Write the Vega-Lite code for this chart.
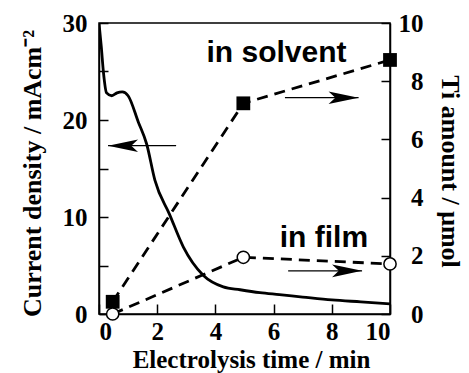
{
  "$schema": "https://vega.github.io/schema/vega-lite/v6.json",
  "width": 291,
  "height": 291,
  "autosize": "none",
  "padding": {"left": 99, "top": 23, "right": 79, "bottom": 59},
  "background": "white",
  "config": {
    "view": {"stroke": "black", "strokeWidth": 1.5},
    "axis": {
      "domainColor": "black", "domainWidth": 1.5, "tickColor": "black", "tickWidth": 1.5,
      "grid": false, "labelFont": "Liberation Serif", "labelFontWeight": "bold", "labelFontSize": 25,
      "labelColor": "black", "titleFont": "Liberation Serif", "titleFontWeight": "bold",
      "titleFontSize": 26, "titleColor": "black", "labelOverlap": false
    }
  },
  "datasets": {
    "current": [
      {"t": 0, "j": 30}, {"t": 0.08, "j": 27.5}, {"t": 0.15, "j": 25}, {"t": 0.26, "j": 22.8},
      {"t": 0.44, "j": 22.5}, {"t": 0.62, "j": 22.8}, {"t": 0.8, "j": 22.9}, {"t": 1.0, "j": 22.5},
      {"t": 1.35, "j": 19.8}, {"t": 1.64, "j": 17.5}, {"t": 1.92, "j": 13.8}, {"t": 2.42, "j": 10.3},
      {"t": 2.9, "j": 6.9}, {"t": 3.58, "j": 4.0}, {"t": 4.27, "j": 2.8}, {"t": 4.85, "j": 2.5},
      {"t": 5.53, "j": 2.2}, {"t": 6.2, "j": 2.0}, {"t": 7.0, "j": 1.75}, {"t": 8.0, "j": 1.45},
      {"t": 9.0, "j": 1.25}, {"t": 10.0, "j": 1.05}
    ],
    "ti": [
      {"t": 0.47, "amount": 0.42, "place": "solvent"},
      {"t": 4.96, "amount": 7.24, "place": "solvent"},
      {"t": 10.0, "amount": 8.73, "place": "solvent"},
      {"t": 0.47, "amount": 0.0, "place": "film"},
      {"t": 4.96, "amount": 1.95, "place": "film"},
      {"t": 10.0, "amount": 1.72, "place": "film"}
    ],
    "labels": [
      {"text": "in solvent", "t": 6.1, "y": 26.0},
      {"text": "in film", "t": 7.73, "y": 6.9}
    ],
    "arrows": [
      {"id": "a", "t": 2.65, "y": 17.35}, {"id": "a", "t": 0.31, "y": 17.35},
      {"id": "b", "t": 6.39, "y": 22.3}, {"id": "b", "t": 8.92, "y": 22.3},
      {"id": "c", "t": 6.5, "y": 4.45}, {"id": "c", "t": 9.04, "y": 4.45}
    ],
    "heads": [
      {"t": 0.31, "y": 17.35, "angle": 180},
      {"t": 8.92, "y": 22.3, "angle": 0},
      {"t": 9.04, "y": 4.45, "angle": 0}
    ]
  },
  "resolve": {"scale": {"y": "independent"}},
  "layer": [
    {
      "layer": [
        {
          "data": {"name": "current"},
          "mark": {"type": "line", "color": "black", "strokeWidth": 2.8, "interpolate": "monotone", "clip": true},
          "encoding": {
            "x": {"field": "t", "type": "quantitative", "scale": {"domain": [0, 10], "nice": false},
              "axis": {"values": [0, 2, 4, 6, 8, 10], "tickSize": -10, "labelPadding": 15, "title": "Electrolysis time / min",
                "titleX": 152, "titleY": 53, "titleBaseline": "alphabetic", "titleAlign": "center", "titleFontSize": 25}},
            "y": {"field": "j", "type": "quantitative", "scale": {"domain": [0, 30], "nice": false},
              "axis": {"values": [0, 5, 10, 15, 20, 25, 30], "tickSize": -9, "labelPadding": 21,
                "labelExpr": "datum.value % 10 === 0 ? datum.label : ''", "title": "Current density / mAcm⁻²",
                "titleX": -67, "titleY": 150, "titleBaseline": "middle", "titleAlign": "center", "titleAngle": -90}}
          }
        },
        {
          "data": {"name": "arrows"},
          "mark": {"type": "line", "color": "black", "strokeWidth": 1.3},
          "encoding": {
            "detail": {"field": "id"},
            "x": {"field": "t", "type": "quantitative"},
            "y": {"field": "y", "type": "quantitative"}
          }
        },
        {
          "data": {"name": "heads"},
          "mark": {"type": "point", "shape": "M0,0L-2,-0.42L-1.55,0L-2,0.42Z", "filled": true, "color": "black", "size": 900, "opacity": 1, "strokeWidth": 0},
          "encoding": {
            "x": {"field": "t", "type": "quantitative"},
            "y": {"field": "y", "type": "quantitative"},
            "angle": {"field": "angle", "type": "quantitative", "scale": null}
          }
        },
        {
          "data": {"name": "labels"},
          "mark": {"type": "text", "font": "Liberation Sans", "fontWeight": "bold", "fontSize": 30, "color": "black", "baseline": "alphabetic", "align": "center"},
          "encoding": {
            "x": {"field": "t", "type": "quantitative"},
            "y": {"field": "y", "type": "quantitative"},
            "text": {"field": "text"}
          }
        }
      ]
    },
    {
      "data": {"name": "ti"},
      "layer": [
        {
          "mark": {"type": "line", "color": "black", "strokeWidth": 2.8, "strokeDash": [11, 7]},
          "encoding": {
            "detail": {"field": "place"},
            "x": {"field": "t", "type": "quantitative"},
            "y": {"field": "amount", "type": "quantitative", "scale": {"domain": [0, 10], "nice": false},
              "axis": {"orient": "right", "values": [0, 2, 4, 6, 8, 10], "tickSize": -9, "labelPadding": 42, "labelAlign": "right",
                "title": "Ti amount / μmol", "titleX": 59, "titleY": 148, "titleBaseline": "middle", "titleAlign": "center", "titleAngle": 90}}
          }
        },
        {
          "transform": [{"filter": "datum.place === 'solvent'"}],
          "mark": {"type": "point", "shape": "square", "filled": true, "color": "black", "size": 190, "opacity": 1},
          "encoding": {
            "x": {"field": "t", "type": "quantitative"},
            "y": {"field": "amount", "type": "quantitative"}
          }
        },
        {
          "transform": [{"filter": "datum.place === 'film'"}],
          "mark": {"type": "point", "shape": "circle", "filled": true, "fill": "white", "stroke": "black", "strokeWidth": 1.5, "size": 150, "opacity": 1, "clip": false},
          "encoding": {
            "x": {"field": "t", "type": "quantitative"},
            "y": {"field": "amount", "type": "quantitative"}
          }
        }
      ]
    }
  ]
}
